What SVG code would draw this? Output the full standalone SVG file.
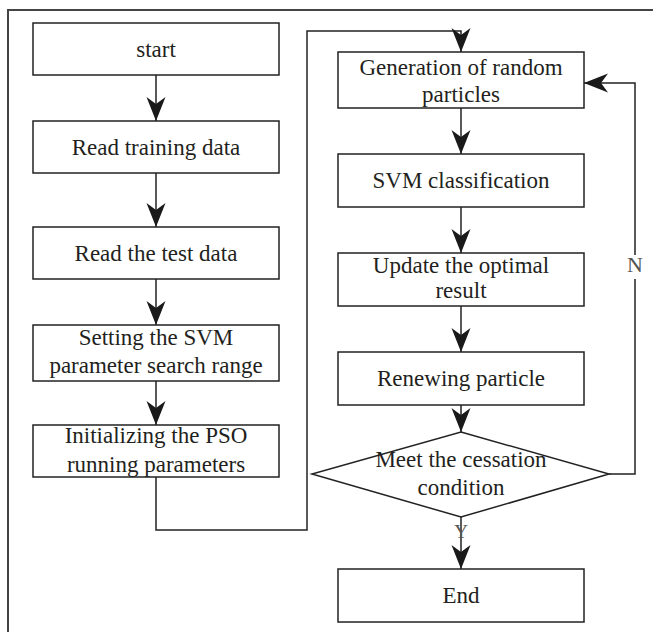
<svg xmlns="http://www.w3.org/2000/svg" width="653" height="632" viewBox="0 0 653 632">
<defs>
<marker id="ah" markerUnits="userSpaceOnUse" markerWidth="30" markerHeight="24" viewBox="-25 -12 26 24" refX="0" refY="0" orient="auto">
<path d="M0,0 L-24,-9.5 L-17,0 L-24,9.5 Z" fill="#1a1a1a"/>
</marker>
<style>
.box{fill:#fff;stroke:#222;stroke-width:1.5}
.t{font-family:"Liberation Serif","Times New Roman",serif;font-size:23px;fill:#231f20;text-anchor:middle}
.c{fill:none;stroke:#222;stroke-width:1.5}
.lbl{font-family:"Liberation Serif","Times New Roman",serif;font-size:20px;fill:#555;text-anchor:middle}
</style>
</defs>
<rect width="653" height="632" fill="#fff"/>
<path d="M8,700 L8,10 L700,10" fill="none" stroke="#444" stroke-width="2"/>
<g id="connectors">
<path class="c" d="M156,75 L156,121" marker-end="url(#ah)"/>
<path class="c" d="M156,173 L156,227" marker-end="url(#ah)"/>
<path class="c" d="M156,279 L156,325" marker-end="url(#ah)"/>
<path class="c" d="M156,381 L156,425" marker-end="url(#ah)"/>
<path class="c" d="M156,477 L156,530 L307,530 L307,31 L461,31 L461,52" marker-end="url(#ah)"/>
<path class="c" d="M461,108 L461,154" marker-end="url(#ah)"/>
<path class="c" d="M461,207 L461,253" marker-end="url(#ah)"/>
<path class="c" d="M461,306 L461,352" marker-end="url(#ah)"/>
<path class="c" d="M461,405 L461,432" marker-end="url(#ah)"/>
<path class="c" d="M461,517 L461,569" marker-end="url(#ah)"/>
<path class="c" d="M609,474 L635,474 L635,279"/>
<path class="c" d="M635,255 L635,83 L584,83" marker-end="url(#ah)"/>
<text class="lbl" x="635" y="272" style="font-size:22px">N</text>
<text class="lbl" x="461" y="538" style="font-size:19px">Y</text>
</g>
<g id="start"><rect class="box" x="33" y="23" width="246" height="52"/><text class="t" x="156" y="57">start</text></g>
<g id="read-training"><rect class="box" x="33" y="121" width="246" height="52"/><text class="t" x="156" y="155">Read training data</text></g>
<g id="read-test"><rect class="box" x="33" y="227" width="246" height="52"/><text class="t" x="156" y="261">Read the test data</text></g>
<g id="setting"><rect class="box" x="33" y="325" width="246" height="56"/><text class="t" x="156" y="345">Setting the SVM</text><text class="t" x="156" y="373">parameter search range</text></g>
<g id="init"><rect class="box" x="33" y="425" width="246" height="52"/><text class="t" x="156" y="443">Initializing the PSO</text><text class="t" x="156" y="472">running parameters</text></g>
<g id="generation"><rect class="box" x="338" y="52" width="246" height="56"/><text class="t" x="461" y="75">Generation of random</text><text class="t" x="461" y="102">particles</text></g>
<g id="svm"><rect class="box" x="338" y="154" width="246" height="53"/><text class="t" x="461" y="188">SVM classification</text></g>
<g id="update"><rect class="box" x="338" y="253" width="246" height="53"/><text class="t" x="461" y="273">Update the optimal</text><text class="t" x="461" y="298">result</text></g>
<g id="renew"><rect class="box" x="338" y="352" width="246" height="53"/><text class="t" x="461" y="386">Renewing particle</text></g>
<g id="decision"><polygon class="box" points="461,432 609,474 461,517 312,474" fill="none" style="fill:none"/><text class="t" x="461" y="467">Meet the cessation</text><text class="t" x="461" y="495">condition</text></g>
<g id="end"><rect class="box" x="338" y="569" width="246" height="53"/><text class="t" x="461" y="603">End</text></g>
</svg>
